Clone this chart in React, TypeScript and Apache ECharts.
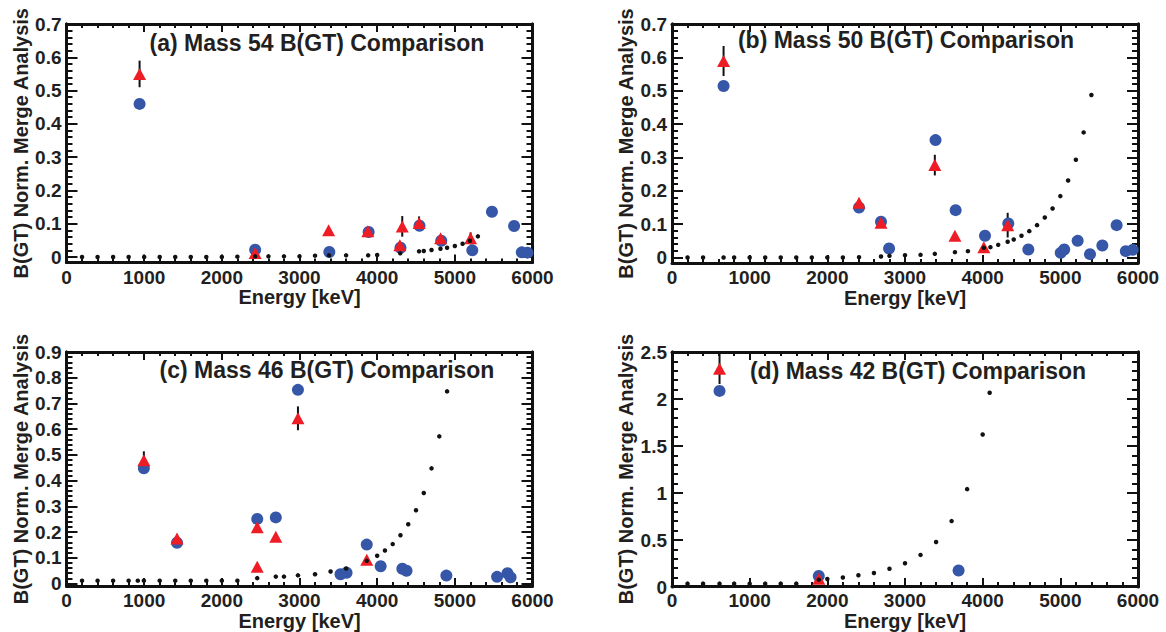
import React, { useEffect, useRef } from 'react';
import * as echarts from 'echarts';

// ---------- texts ----------
const panelTitles = [
  '(a) Mass 54 B(GT) Comparison',
  '(b) Mass 50 B(GT) Comparison',
  '(c) Mass 46 B(GT) Comparison',
  '(d) Mass 42 B(GT) Comparison',
];
const xTitle = 'Energy [keV]';
const yTitle = 'B(GT) Norm. Merge Analysis';

// ---------- axis ranges ----------
const xMax = 6000;
const xInterval = 1000;
const yMaxes = [0.7, 0.7, 0.9, 2.5];
const yIntervals = [0.1, 0.1, 0.1, 0.5];

// ---------- data: [energy keV, B(GT)] ; red: [energy, B(GT), error] ----------
const blueA = [[941, 0.46], [2429, 0.022], [3384, 0.015], [3890, 0.075], [4300, 0.028], [4545, 0.094], [4825, 0.049], [5225, 0.02], [5478, 0.136], [5763, 0.093], [5862, 0.014], [5935, 0.013]];
const redA = [[941, 0.55, 0.04], [2429, 0.012, 0], [3375, 0.08, 0], [3880, 0.077, 0], [4292, 0.035, 0], [4323, 0.092, 0.031], [4540, 0.102, 0.02], [4817, 0.056, 0], [5203, 0.056, 0.018]];
const dotsA = [[200, 0], [400, 0], [600, 0], [800, 0], [1000, 0], [1200, 0], [1400, 0], [1600, 0], [1800, 0], [2000, 0], [2200, 0.001], [2429, 0.002], [2600, 0.002], [2800, 0.002], [3000, 0.002], [3200, 0.004], [3380, 0.005], [3600, 0.005], [3884, 0.005], [4000, 0.006], [4297, 0.011], [4539, 0.017], [4600, 0.018], [4700, 0.021], [4815, 0.025], [4900, 0.028], [5000, 0.033], [5100, 0.04], [5194, 0.049], [5297, 0.062]];

const blueB = [[664, 0.514], [2408, 0.15], [2691, 0.107], [2795, 0.027], [3393, 0.352], [3652, 0.142], [4030, 0.065], [4330, 0.102], [4588, 0.024], [5005, 0.014], [5050, 0.024], [5223, 0.05], [5382, 0.01], [5541, 0.036], [5725, 0.097], [5843, 0.019], [5932, 0.023]];
const redB = [[664, 0.589, 0.045], [2408, 0.164, 0], [2691, 0.104, 0], [3384, 0.277, 0.031], [3643, 0.065, 0], [4015, 0.031, 0], [4322, 0.097, 0.037]];
const dotsB = [[200, 0], [400, 0], [664, 0], [800, 0], [1000, 0], [1200, 0], [1400, 0], [1600, 0], [1800, 0], [2000, 0], [2200, 0], [2408, 0.001], [2691, 0.003], [2800, 0.005], [3000, 0.007], [3200, 0.008], [3384, 0.011], [3643, 0.016], [3810, 0.019], [4015, 0.029], [4100, 0.031], [4200, 0.038], [4322, 0.047], [4400, 0.054], [4500, 0.065], [4600, 0.079], [4700, 0.097], [4800, 0.12], [4900, 0.147], [5000, 0.184], [5100, 0.231], [5200, 0.293], [5300, 0.375], [5400, 0.487]];

const blueC = [[996, 0.442], [1423, 0.149], [2456, 0.243], [2695, 0.249], [2980, 0.751], [3528, 0.025], [3606, 0.031], [3866, 0.142], [4045, 0.057], [4324, 0.047], [4378, 0.039], [4891, 0.02], [5544, 0.015], [5678, 0.029], [5718, 0.013]];
const redC = [[996, 0.474, 0.035], [1423, 0.166, 0], [2456, 0.21, 0], [2456, 0.055, 0], [2695, 0.173, 0], [2980, 0.639, 0.047], [3866, 0.082, 0]];
const dotsC = [[200, 0], [400, 0], [600, 0], [800, 0], [918, 0], [996, 0], [1200, 0], [1400, 0], [1600, 0], [1800, 0], [2000, 0], [2200, 0], [2456, 0.01], [2695, 0.016], [2800, 0.016], [2980, 0.021], [3200, 0.025], [3400, 0.036], [3600, 0.048], [3866, 0.078], [4000, 0.098], [4100, 0.119], [4200, 0.144], [4300, 0.179], [4400, 0.222], [4500, 0.277], [4600, 0.345], [4700, 0.442], [4800, 0.568], [4900, 0.745]];

const blueD = [[612, 2.08], [1890, 0.082], [3690, 0.142]];
const redD = [[612, 2.32, 0.165], [1890, 0.053, 0]];
const dotsD = [[200, 0], [400, 0], [612, 0], [800, 0], [1000, 0], [1200, 0], [1400, 0], [1600, 0], [1890, 0.043], [2000, 0.05], [2200, 0.066], [2400, 0.09], [2600, 0.115], [2800, 0.16], [3000, 0.22], [3200, 0.31], [3400, 0.45], [3600, 0.675], [3800, 1.02], [4000, 1.61], [4090, 2.06]];

const blueSets = [blueA, blueB, blueC, blueD];
const redSets = [redA, redB, redC, redD];
const dotSets = [dotsA, dotsB, dotsC, dotsD];

// ---------- layout (pixels) ----------
const panels = [
  { left: 66.5, top: 24, right: 532.5, zero: 257, bottom: 262.5, tx: 317, ty: 43 },
  { left: 672, top: 24, right: 1138, zero: 257.5, bottom: 263, tx: 906, ty: 40 },
  { left: 66.5, top: 352, right: 532.5, zero: 583.5, bottom: 589, tx: 327, ty: 370 },
  { left: 672, top: 352, right: 1138, zero: 587, bottom: 589.5, tx: 918, ty: 371 },
];

const FONT = '"Liberation Sans", Arial, Helvetica, sans-serif';
const INK = '#231f20';
const LINE = '#111111';
const BLUE = '#3656a8';
const RED = '#ee1c25';

function buildOption() {
  const grid: any[] = [];
  const xAxis: any[] = [];
  const yAxis: any[] = [];
  const series: any[] = [];
  const graphic: any[] = [];

  const mkLine = () => ({ show: true, onZero: false, lineStyle: { color: LINE, width: 3 } });
  const labelStyle = { color: INK, fontFamily: FONT, fontWeight: 'bold', fontSize: 19 };
  const nameStyle = { color: INK, fontFamily: FONT, fontWeight: 'bold', fontSize: 20 };
  const plain = (v: number) => String(Math.round(v * 1000) / 1000);
  const ticks = (major: number, minor: number) => ({
    axisTick: { show: true, inside: true, length: major, lineStyle: { color: LINE, width: 2 } },
    minorTick: { show: true, splitNumber: 5, length: minor, lineStyle: { color: LINE, width: 2 } },
  });

  panels.forEach((p, k) => {
    const H = p.bottom - p.top;
    const Hz = p.zero - p.top;
    const yMax = yMaxes[k];
    const yMin = -((p.bottom - p.zero) * yMax) / Hz;
    const gMain = 2 * k;
    const gTick = 2 * k + 1;
    grid.push({ left: p.left, top: p.top, width: p.right - p.left, height: H });
    grid.push({ left: p.left, top: p.top, width: p.right - p.left, height: Hz });

    xAxis.push({
      type: 'value', min: 0, max: xMax, interval: xInterval, gridIndex: gMain, position: 'bottom',
      splitLine: { show: false }, axisLine: mkLine(), ...ticks(8, 4),
      axisLabel: { show: true, margin: 5, formatter: plain, ...labelStyle },
      name: xTitle, nameLocation: 'middle', nameGap: 23, nameTextStyle: nameStyle,
    });
    xAxis.push({
      type: 'value', min: 0, max: xMax, interval: xInterval, gridIndex: gMain, position: 'top',
      splitLine: { show: false }, axisLine: mkLine(), ...ticks(8, 4), axisLabel: { show: false },
    });
    xAxis.push({
      type: 'value', min: 0, max: xMax, interval: xInterval, gridIndex: gTick, position: 'bottom',
      splitLine: { show: false }, axisLine: { show: false }, axisTick: { show: false }, axisLabel: { show: false },
    });

    yAxis.push({
      type: 'value', min: yMin, max: yMax, gridIndex: gMain, position: 'left',
      splitLine: { show: false }, axisTick: { show: false }, axisLabel: { show: false }, axisLine: mkLine(),
      name: yTitle, nameLocation: 'middle', nameGap: 36, nameTextStyle: nameStyle,
    });
    yAxis.push({
      type: 'value', min: yMin, max: yMax, gridIndex: gMain, position: 'right',
      splitLine: { show: false }, axisTick: { show: false }, axisLabel: { show: false }, axisLine: mkLine(),
    });
    yAxis.push({
      type: 'value', min: 0, max: yMax, interval: yIntervals[k], gridIndex: gTick, position: 'left',
      splitLine: { show: false }, axisLine: mkLine(), ...ticks(11, 6),
      axisLabel: { show: true, margin: 5, formatter: plain, ...labelStyle },
    });
    yAxis.push({
      type: 'value', min: 0, max: yMax, interval: yIntervals[k], gridIndex: gTick, position: 'right',
      splitLine: { show: false }, axisLine: mkLine(), ...ticks(11, 6), axisLabel: { show: false },
    });

    const xi = 3 * k;
    const yi = 4 * k;
    series.push({
      type: 'scatter', xAxisIndex: xi, yAxisIndex: yi, symbol: 'circle', symbolSize: 12,
      itemStyle: { color: BLUE, opacity: 1 }, data: blueSets[k],
    });
    series.push({
      type: 'custom', xAxisIndex: xi, yAxisIndex: yi,
      encode: { x: 0, y: 1 },
      data: redSets[k].filter((d) => d[2] > 0),
      renderItem: (params: any, api: any) => {
        const x = api.value(0);
        const y = api.value(1);
        const e = api.value(2);
        const a = api.coord([x, y - e]);
        const b = api.coord([x, y + e]);
        return {
          type: 'line',
          shape: { x1: a[0], y1: a[1], x2: b[0], y2: b[1] },
          style: { stroke: '#111', lineWidth: 2 },
        };
      },
    });
    series.push({
      type: 'scatter', xAxisIndex: xi, yAxisIndex: yi, symbol: 'triangle', symbolSize: [13, 12],
      encode: { x: 0, y: 1 }, itemStyle: { color: RED, opacity: 1 }, data: redSets[k],
    });
    series.push({
      type: 'scatter', xAxisIndex: xi, yAxisIndex: yi, symbol: 'circle', symbolSize: 4.5,
      itemStyle: { color: '#111', opacity: 1 }, data: dotSets[k],
    });

    graphic.push({
      type: 'text', x: p.tx, y: p.ty, z: 10,
      style: {
        text: panelTitles[k], fill: INK, fontFamily: FONT, fontWeight: 'bold', fontSize: 23,
        textAlign: 'center', textVerticalAlign: 'middle', align: 'center', verticalAlign: 'middle',
      },
    });
  });

  return {
    animation: false,
    backgroundColor: '#ffffff',
    textStyle: { fontFamily: FONT },
    grid, xAxis, yAxis, series, graphic,
  };
}

export default function App() {
  const ref = useRef<HTMLDivElement>(null);
  useEffect(() => {
    if (!ref.current) return;
    const chart = echarts.init(ref.current, undefined, { renderer: 'svg' });
    chart.setOption(buildOption() as any);
    return () => chart.dispose();
  }, []);
  return (
    <div
      ref={ref}
      style={{ position: 'absolute', left: 0, top: 0, width: 1166, height: 632, background: '#fff' }}
    />
  );
}
